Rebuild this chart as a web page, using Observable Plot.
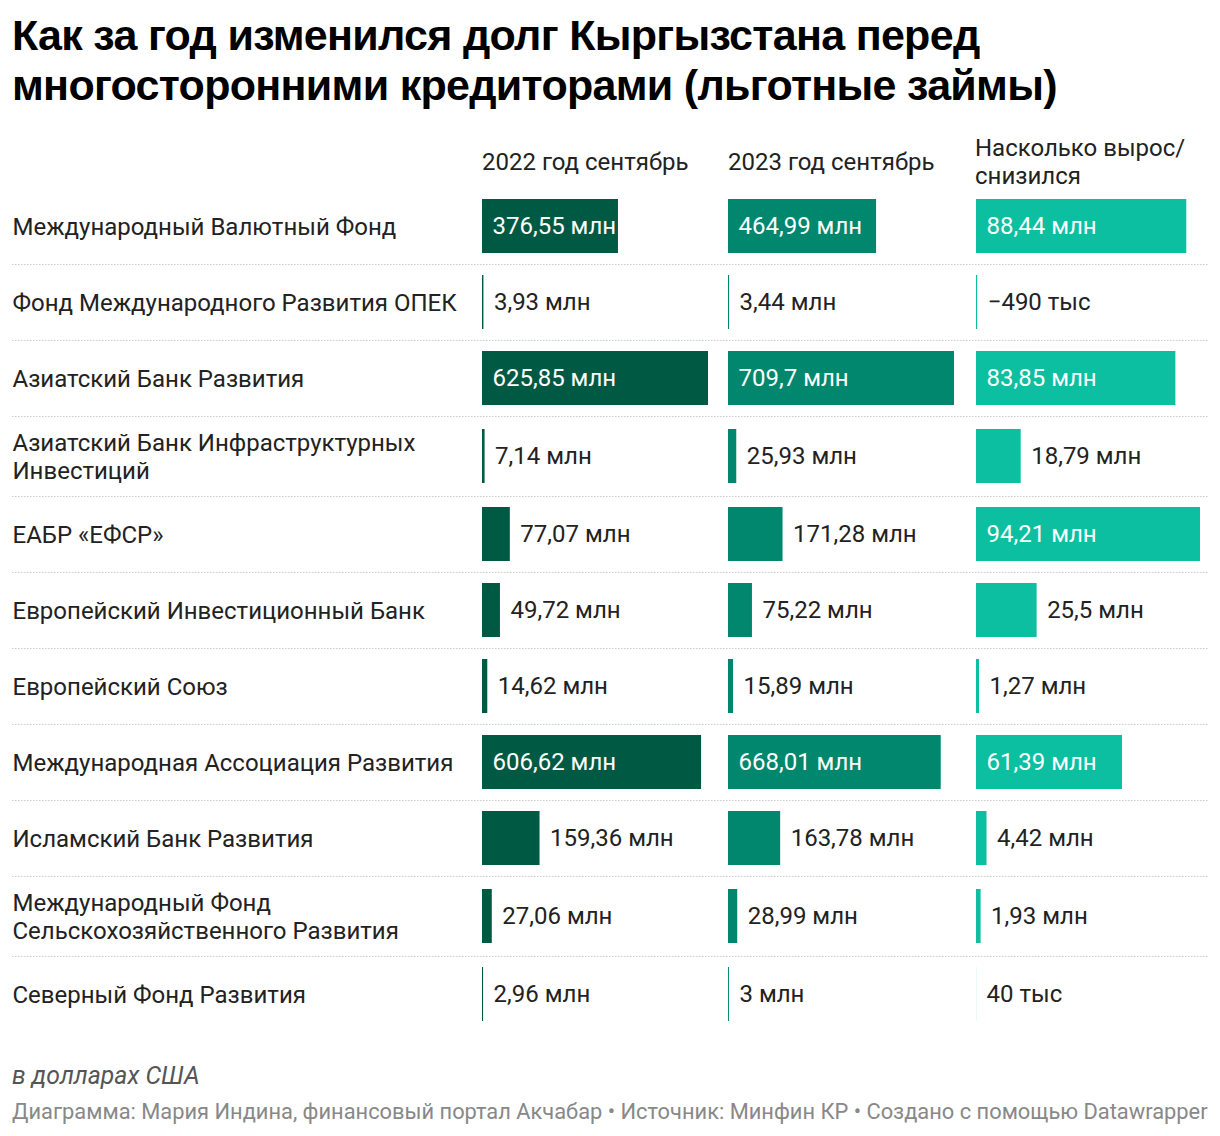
<!DOCTYPE html>
<html><head><meta charset="utf-8">
<script src="https://cdn.jsdelivr.net/npm/d3@7"></script>
<script src="https://cdn.jsdelivr.net/npm/@observablehq/plot@0.6"></script>
<style>
body{margin:0;background:#fff;font-family:Roboto,sans-serif;}
#root{position:relative;width:1220px;height:1136px;overflow:hidden;}
.title{position:absolute;left:12px;top:10px;font-family:"Liberation Sans",Arial,sans-serif;font-weight:700;font-size:43px;line-height:50px;color:#000;letter-spacing:-0.7px;white-space:nowrap;}
.hdr{position:absolute;top:134px;height:56px;display:flex;align-items:center;font-size:24px;line-height:28px;color:#222;white-space:nowrap;}
.p{position:absolute;top:188px;}
.note{position:absolute;left:12px;top:1061px;font-style:italic;font-size:24.8px;color:#555;line-height:30px}
.src{position:absolute;left:12px;top:1098px;font-size:21.85px;color:#888;line-height:28px;white-space:nowrap;}
</style></head>
<body><div id="root"></div>
<script>
const titleText = "Как за год изменился долг Кыргызстана перед<br>многосторонними кредиторами (льготные займы)";
const headers = ["2022 год сентябрь", "2023 год сентябрь", "Насколько вырос/<br>снизился"];
const creditors = [
  "Международный Валютный Фонд",
  "Фонд Международного Развития ОПЕК",
  "Азиатский Банк Развития",
  "Азиатский Банк Инфраструктурных\nИнвестиций",
  "ЕАБР «ЕФСР»",
  "Европейский Инвестиционный Банк",
  "Европейский Союз",
  "Международная Ассоциация Развития",
  "Исламский Банк Развития",
  "Международный Фонд\nСельскохозяйственного Развития",
  "Северный Фонд Развития"
];
// values in millions USD
const v2022 = [376.55, 3.93, 625.85, 7.14, 77.07, 49.72, 14.62, 606.62, 159.36, 27.06, 2.96];
const v2023 = [464.99, 3.44, 709.7, 25.93, 171.28, 75.22, 15.89, 668.01, 163.78, 28.99, 3.00];
const vChange = [88.44, -0.49, 83.85, 18.79, 94.21, 25.5, 1.27, 61.39, 4.42, 1.93, 0.04];
const colors = ["#005a43", "#00876e", "#0bbfa0"];
const noteText = "в долларах США";
const sourceText = "Диаграмма: Мария Индина, финансовый портал Акчабар • Источник: Минфин КР • Создано с помощью Datawrapper";

// row layout (single-line rows shorter than two-line rows)
let acc = 0;
const rows = creditors.map((name, i) => {
  const h = name.includes("\n") ? 80 : 76;
  const r = {name, i, top: acc, mid: acc + h / 2};
  acc += h;
  return r;
});
const total = acc;

function fmt(v) {
  let s;
  if (Math.abs(v) < 1) s = Math.round(v * 1000) + " тыс";
  else s = String(+v.toFixed(2)).replace(".", ",") + " млн";
  return s.replace("-", "−");
}

const root = document.getElementById("root");
const t = document.createElement("div"); t.className = "title"; t.innerHTML = titleText; root.appendChild(t);
[482, 728, 975].forEach((l, k) => {
  const h = document.createElement("div"); h.className = "hdr"; h.style.left = l + "px";
  h.innerHTML = "<div>" + headers[k] + "</div>"; root.appendChild(h);
});

const baseStyle = {fontFamily: "Roboto", overflow: "visible", background: "transparent"};
const yScale = {domain: [0, total], range: [0, total], axis: null};

function place(el, left) { el.classList.add("p"); el.style.left = left + "px"; root.appendChild(el); }

// separators overlay
place(Plot.plot({
  width: 1196, height: total, margin: 0,
  y: yScale, style: baseStyle,
  marks: [Plot.ruleY(rows.slice(1), {y: "top", stroke: "#cccccc", strokeWidth: 1.2, strokeDasharray: "1.5,1.5"})]
}), 12);

// label column
place(Plot.plot({
  width: 470, height: total, margin: 0,
  y: yScale, style: baseStyle,
  marks: [Plot.text(rows, {y: "mid", text: "name", frameAnchor: "left", textAnchor: "start", fontSize: 24, lineHeight: 1.167, fill: "#222"})]
}), 12);

function barColumn(values, color, width, marginRight, left) {
  const max = d3.max(values, Math.abs);
  const data = rows.map((r, i) => ({...r, v: values[i], inside: Math.abs(values[i]) / max > 0.5}));
  place(Plot.plot({
    width, height: total, margin: 0, marginRight,
    x: {domain: [0, max], axis: null},
    y: yScale, style: baseStyle,
    marks: [
      Plot.rect(data, {x1: 0, x2: d => Math.abs(d.v), y1: d => d.mid - 27, y2: d => d.mid + 27, fill: color}),
      Plot.text(data.filter(d => d.inside), {x: 0, y: "mid", text: d => fmt(d.v), textAnchor: "start", dx: 10, fill: "#fff", fontSize: 24}),
      Plot.text(data.filter(d => !d.inside), {x: d => Math.abs(d.v), y: "mid", text: d => fmt(d.v), textAnchor: "start", dx: 10, fill: "#222", fontSize: 24})
    ]
  }), left);
}
barColumn(v2022, colors[0], 246, 20, 482);
barColumn(v2023, colors[1], 248, 22, 728);
barColumn(vChange, colors[2], 232, 8, 976);

const n = document.createElement("div"); n.className = "note"; n.textContent = noteText; root.appendChild(n);
const s = document.createElement("div"); s.className = "src"; s.textContent = sourceText; root.appendChild(s);
</script>
</body></html>
